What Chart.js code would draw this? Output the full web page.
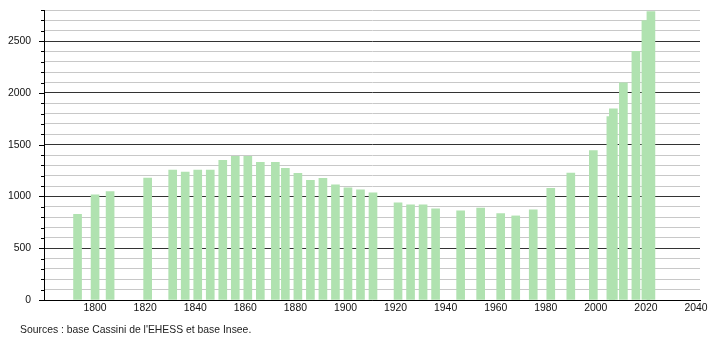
<!DOCTYPE html>
<html>
<head>
<meta charset="utf-8">
<script src="https://cdn.jsdelivr.net/npm/chart.js@4/dist/chart.umd.min.js"></script>
<style>
  html, body { margin: 0; padding: 0; background: #fff; }
  #wrap { position: relative; width: 710px; height: 340px; }
  #src { position: absolute; left: 20px; top: 324px; font: 10.4px "Liberation Sans", Arial, sans-serif; color: #222; white-space: nowrap; }
</style>
</head>
<body>
<div id="wrap">
  <canvas id="c" width="710" height="340"></canvas>
  <div id="src">Sources : base Cassini de l'EHESS et base Insee.</div>
</div>
<script>
const years = [1793,1800,1806,1821,1831,1836,1841,1846,1851,1856,1861,1866,1872,1876,1881,1886,1891,1896,1901,1906,1911,1921,1926,1931,1936,1946,1954,1962,1968,1975,1982,1990,1999,2006,2007,2011,2016,2020,2022];
const population = [826,1015,1048,1177,1255,1235,1255,1255,1348,1387,1387,1330,1330,1272,1224,1155,1175,1113,1083,1064,1035,938,919,919,880,861,887,835,812,870,1077,1226,1442,1771,1845,2097,2400,2697,2784];
const xTickLabels = [1800,1820,1840,1860,1880,1900,1920,1940,1960,1980,2000,2020,2040];
const yMajorTicks = [0,500,1000,1500,2000,2500];

const FONT = { family: '"Liberation Sans", Arial, sans-serif', size: 10.4 };

const tickPlugin = {
  id: 'yTicks',
  afterDraw(chart) {
    const y = chart.scales.y;
    const ctx = chart.ctx;
    ctx.save();
    ctx.strokeStyle = '#000';
    ctx.lineWidth = 1;
    y.ticks.forEach(t => {
      const py = Math.round(y.getPixelForValue(t.value)) + 0.5;
      const len = (t.value % 500 === 0) ? 5 : 3;
      ctx.beginPath();
      ctx.moveTo(y.right - len, py);
      ctx.lineTo(y.right, py);
      ctx.stroke();
    });
    ctx.restore();
  }
};

new Chart(document.getElementById('c'), {
  type: 'bar',
  data: {
    datasets: [{
      data: years.map((yr, i) => ({ x: yr, y: population[i] })),
      backgroundColor: 'rgb(176,226,176)',
      borderWidth: 0,
      barThickness: 8
    }]
  },
  options: {
    responsive: false,
    animation: false,
    events: [],
    layout: { padding: { left: 0, right: 10, top: 10, bottom: 0 } },
    plugins: { legend: { display: false }, tooltip: { enabled: false } },
    scales: {
      x: {
        type: 'linear',
        offset: false,
        min: 1779.6,
        max: 2041.6,
        afterBuildTicks: s => { s.ticks = xTickLabels.map(v => ({ value: v })); },
        afterFit: s => { s.height = 40; s.paddingLeft = 0; s.paddingRight = 0; },
        grid: { display: false, drawTicks: false, offset: false },
        border: { display: true, color: '#000', width: 1 },
        ticks: { color: '#111', font: FONT, padding: 2, maxRotation: 0, autoSkip: false, callback: v => String(v) }
      },
      y: {
        min: 0,
        max: 2800,
        afterFit: s => { s.width = 44; s.paddingTop = 0; s.paddingBottom = 0; },
        ticks: {
          stepSize: 100,
          color: '#111',
          font: FONT,
          padding: 13,
          autoSkip: false,
          callback: v => yMajorTicks.includes(v) ? String(v) : ''
        },
        grid: {
          drawTicks: false,
          color: c => (c.tick && c.tick.value % 500 === 0) ? '#333' : '#c8c8c8',
          lineWidth: 1
        },
        border: { display: true, color: '#000', width: 1 }
      }
    }
  },
  plugins: [tickPlugin]
});
</script>
</body>
</html>
